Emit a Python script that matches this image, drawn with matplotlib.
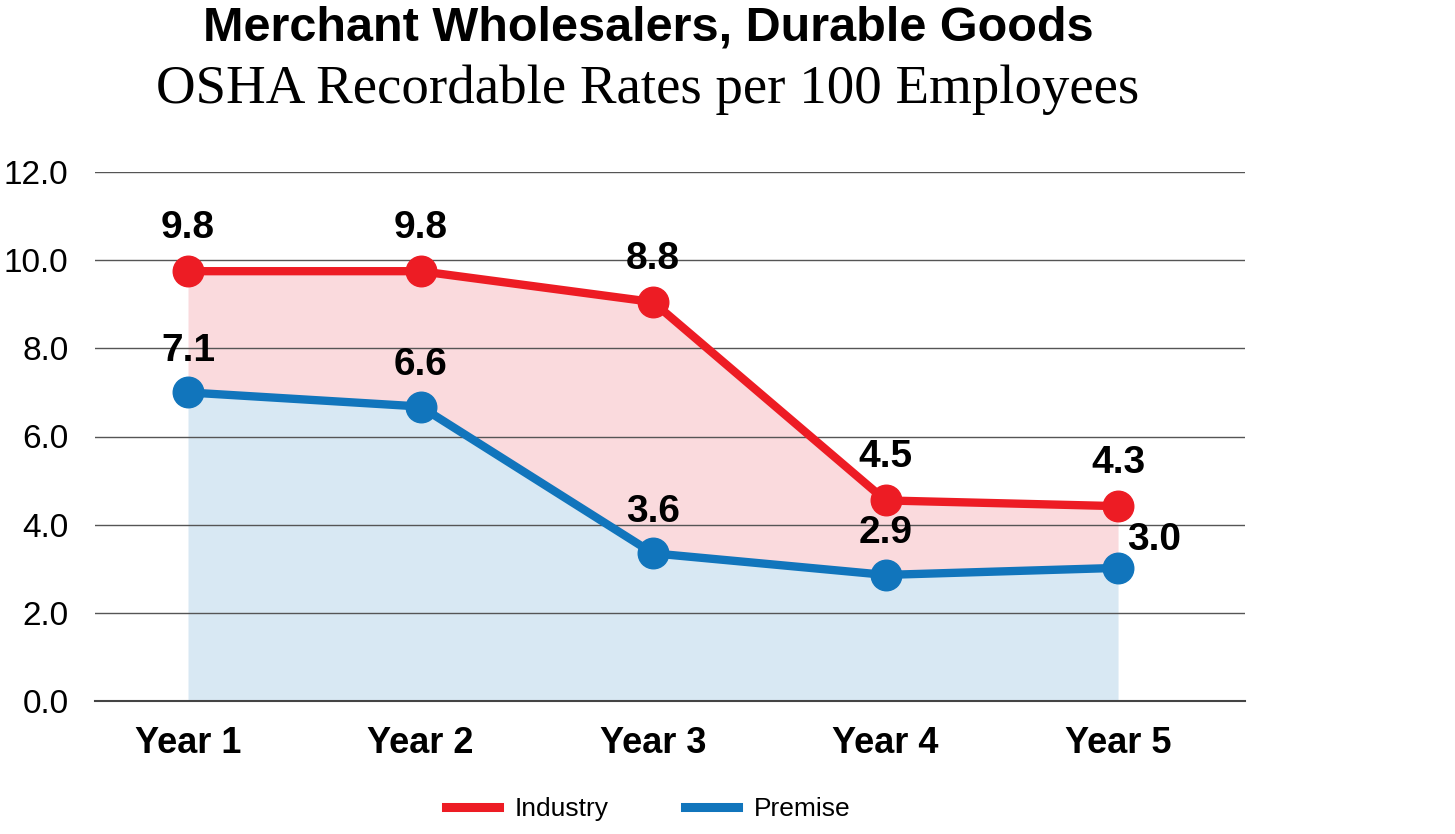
import matplotlib.pyplot as plt
from matplotlib.lines import Line2D

years = ['Year 1', 'Year 2', 'Year 3', 'Year 4', 'Year 5']
# plotted positions, labels as printed on it
industry = [9.75, 9.75, 9.05, 4.55, 4.42]
premise = [7.0, 6.68, 3.35, 2.86, 3.02]
industry_labels = ['9.8', '9.8', '8.8', '4.5', '4.3']
premise_labels = ['7.1', '6.6', '3.6', '2.9', '3.0']
yticks = [0, 2, 4, 6, 8, 10, 12]

red = '#ED1C24'
blue = '#1175BC'
sans = ['Liberation Sans', 'DejaVu Sans']

fig = plt.figure(figsize=(14.55, 8.34), dpi=100)
ax = fig.add_axes([95 / 1455, 1 - 701 / 834, 1150 / 1455, 529 / 834])

x = list(range(len(years)))
ax.fill_between(x, 0, premise, color='#D8E8F3', lw=0, zorder=1)
ax.fill_between(x, premise, industry, color='#FADADD', lw=0, zorder=1)
ax.plot(x, industry, color=red, lw=6, marker='o', ms=22, zorder=3)
ax.plot(x, premise, color=blue, lw=6, marker='o', ms=22, zorder=3)

for i in x:
    ax.annotate(industry_labels[i], (i, industry[i]), xytext=(0, 31),
                textcoords='offset points', ha='center', va='center',
                fontsize=28, fontweight='bold', family=sans, zorder=4)
    off = (26, 20) if i == len(x) - 1 else (0, 30)
    ax.annotate(premise_labels[i], (i, premise[i]), xytext=off,
                textcoords='offset points', ha='center', va='center',
                fontsize=28, fontweight='bold', family=sans, zorder=4)

ax.set_xlim(-0.4, 4.546)
ax.set_ylim(0, 12)
ax.set_yticks(yticks)
ax.set_yticklabels([f'{v:.1f}' for v in yticks], fontsize=24, family=sans)
ax.set_xticks(x)
ax.set_xticklabels(years, fontsize=26, fontweight='bold', family=sans)
ax.tick_params(length=0)
ax.tick_params(axis='y', pad=19)
ax.tick_params(axis='x', pad=18)
ax.set_axisbelow('line')
ax.grid(axis='y', color='#555555', lw=1)
for s in ['top', 'right', 'left']:
    ax.spines[s].set_visible(False)
ax.spines['bottom'].set_color('#444444')
ax.spines['bottom'].set_linewidth(1.5)

handles = [Line2D([], [], color=red, lw=6.5), Line2D([], [], color=blue, lw=6.5)]
fig.legend(handles, ['Industry', 'Premise'], loc='center',
           bbox_to_anchor=(648 / 1455, 1 - 809 / 834), ncol=2, frameon=False,
           prop={'family': sans, 'size': 19}, handlelength=2.0,
           handletextpad=0.6, columnspacing=2.9)

fig.text(648 / 1455, 1 - 28 / 834, 'Merchant Wholesalers, Durable Goods',
         ha='center', va='center', fontsize=35, fontweight='bold', family=sans)
fig.text(648 / 1455, 1 - 103 / 834, 'OSHA Recordable Rates per 100 Employees',
         ha='center', va='baseline', fontsize=39.5, family=['Liberation Serif', 'DejaVu Serif'])

fig.savefig('out.png', dpi=100)
